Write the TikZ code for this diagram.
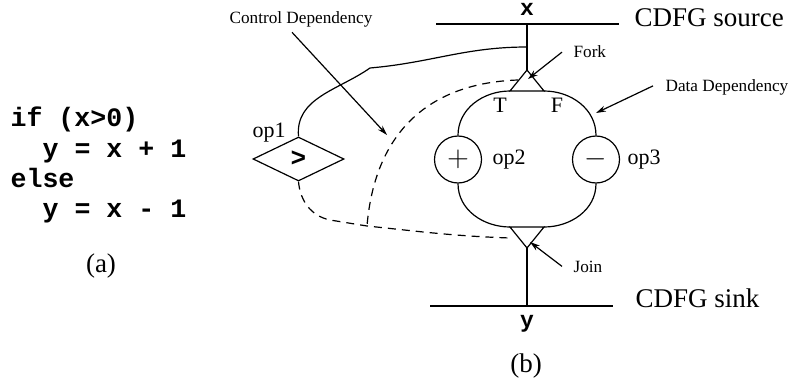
\documentclass[tikz,border=0pt]{standalone}
\usepackage{fontspec}
\setmainfont{Liberation Serif}
\setmonofont{Liberation Mono}
\usetikzlibrary{shapes.geometric,arrows.meta}

\tikzset{
  lbl/.style={inner sep=0pt},
  bigtxt/.style={lbl, font=\fontsize{13.5}{15}\selectfont},
  midtxt/.style={lbl, font=\fontsize{11}{13}\selectfont},
  smalltxt/.style={lbl, font=\fontsize{8.6}{10}\selectfont},
  codetxt/.style={lbl, font=\fontsize{13.3}{15}\selectfont\ttfamily\bfseries},
  vartxt/.style={lbl, font=\fontsize{11.5}{13}\selectfont\ttfamily\bfseries},
  opnode/.style={draw, circle, minimum size=23.5pt, inner sep=0pt,
    font=\fontsize{14}{16}\selectfont},
  cmpnode/.style={draw, diamond, minimum width=45.5pt, minimum height=22pt,
    inner sep=0pt, font=\fontsize{13}{15}\selectfont\ttfamily\bfseries},
  ctrl/.style={dash pattern=on 4pt off 3pt},
  ptr/.style={-{Stealth[length=5pt,width=3pt]}},
}

\begin{document}
\begin{tikzpicture}[x=0.5pt, y=0.5pt, line width=0.6pt]
  \useasboundingbox (0,0) rectangle (798,381);

  % (a) source code
  \node[codetxt, anchor=base west] (code1) at (10,255) {if (x>0)};
  \node[codetxt, anchor=base west] (code2) at (42,224) {y = x + 1};
  \node[codetxt, anchor=base west] (code3) at (10,194) {else};
  \node[codetxt, anchor=base west] (code4) at (42,164) {y = x - 1};
  \node[bigtxt, anchor=base] (capA) at (101,109) {(a)};

  % (b) source and sink
  \coordinate (srcL) at (436,357);
  \coordinate (srcR) at (619,357);
  \coordinate (srcMid) at (527,357);
  \coordinate (sinkL) at (430,75);
  \coordinate (sinkR) at (613,75);
  \coordinate (sinkMid) at (527,75);
  \draw (srcL) -- (srcR);
  \draw (sinkL) -- (sinkR);
  \node[vartxt, anchor=base] (xvar) at (527,365) {x};
  \node[vartxt, anchor=base] (yvar) at (527,54) {y};
  \node[bigtxt, anchor=base west] (srcLbl) at (634,354) {CDFG source};
  \node[bigtxt, anchor=base west] (sinkLbl) at (635,74) {CDFG sink};
  \node[bigtxt, anchor=base] (capB) at (526,9) {(b)};

  % fork and join
  \coordinate (forkTop) at (527,311);
  \coordinate (forkL) at (510,290);
  \coordinate (forkR) at (544,290);
  \coordinate (joinBot) at (527,133);
  \coordinate (joinL) at (510,154);
  \coordinate (joinR) at (544,154);
  \draw (forkTop) -- (forkL) -- (forkR) -- cycle;
  \draw (joinBot) -- (joinL) -- (joinR) -- cycle;
  \draw (srcMid) -- (forkTop);
  \draw (joinBot) -- (sinkMid);
  \node[midtxt, anchor=base] (tLbl) at (500,268) {T};
  \node[midtxt, anchor=base] (fLbl) at (557,268) {F};

  % operations
  \node[cmpnode] (cmp) at (298.5,222) {>};
  \node[opnode] (add) at (458,221.5) {$+$};
  \node[opnode] (sub) at (596,221.5) {$-$};
  \node[midtxt, anchor=base west] (op1Lbl) at (252,243) {op1};
  \node[midtxt, anchor=base west] (op2Lbl) at (492,217) {op2};
  \node[midtxt, anchor=base west] (op3Lbl) at (627,217) {op3};

  % data edges
  \draw (forkL) to[out=180,in=90] (add.north);
  \draw (forkR) to[out=0,in=90] (sub.north);
  \draw (add.south) to[out=-90,in=180] (joinL);
  \draw (sub.south) to[out=-90,in=0] (joinR);

  % control edges
  \coordinate (ctlBr) at (527,334);
  \coordinate (ctlKink) at (370,313);
  \draw (ctlBr) to[out=180,in=5] (ctlKink) to[out=-145,in=95] (cmp.north);
  \coordinate (forkDash) at (518,301);
  \coordinate (joinDash) at (510,143);
  \coordinate (dashMeet) at (367,155);
  \draw[ctrl] (forkDash) .. controls (430,298) and (375,250) .. (dashMeet);
  \draw[ctrl] (cmp.south) to[out=-85,in=168] (330,161) -- (dashMeet)
    to[out=-6,in=178] (joinDash);

  % annotations
  \node[smalltxt, anchor=base west] (cdLbl) at (229,357) {Control Dependency};
  \node[smalltxt, anchor=base west] (forkLbl) at (573,323) {Fork};
  \node[smalltxt, anchor=base west] (ddLbl) at (665,289) {Data Dependency};
  \node[smalltxt, anchor=base west] (joinLbl) at (573,109) {Join};
  \coordinate (cdTip) at (387,246);
  \coordinate (forkIn) at (528,302);
  \coordinate (ddTip) at (596,268);
  \coordinate (joinIn) at (530,139);
  \draw[ptr] ([xshift=-4.5pt,yshift=-2pt]cdLbl.south) -- (cdTip);
  \draw[ptr] ([xshift=-5.5pt]forkLbl.west) -- (forkIn);
  \draw[ptr] ([xshift=-6pt,yshift=1pt]ddLbl.west) -- (ddTip);
  \draw[ptr] ([xshift=-5.5pt]joinLbl.west) -- (joinIn);
\end{tikzpicture}
\end{document}
